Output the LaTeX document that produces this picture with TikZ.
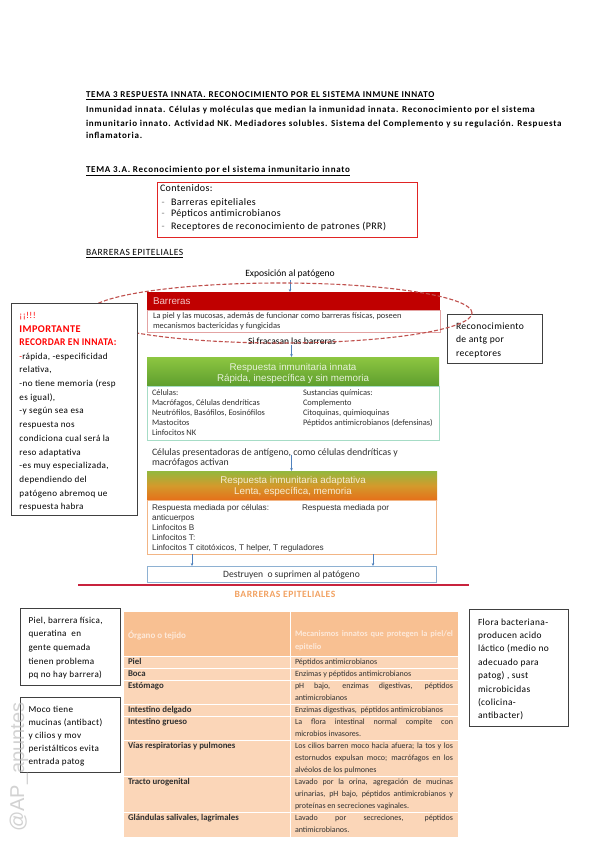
\documentclass[tikz,border=0pt]{standalone}
\usepackage{fontspec}
\setmainfont{Carlito}
\newfontfamily\arialf{Liberation Sans}
\newfontfamily\notef[LetterSpace=4]{Carlito}
\newfontfamily\hdf[LetterSpace=8]{Carlito}
\newfontfamily\lsf[LetterSpace=5]{Carlito}
\usetikzlibrary{arrows.meta}
\definecolor{barred}{HTML}{C00000}
\definecolor{barlight}{HTML}{F4C4C4}
\definecolor{barbord}{HTML}{E3A3A3}
\definecolor{grtop}{HTML}{8DC641}
\definecolor{grbot}{HTML}{5E9E2E}
\definecolor{grtext}{HTML}{E8F2DA}
\definecolor{grbord}{HTML}{A6DCC6}
\definecolor{ortop}{HTML}{93B83E}
\definecolor{ormid}{HTML}{D39A2C}
\definecolor{orbot}{HTML}{E5701A}
\definecolor{ortext}{HTML}{F8EBD2}
\definecolor{orbord}{HTML}{F2B585}
\definecolor{blbord}{HTML}{8EB1D2}
\definecolor{arrblue}{HTML}{4F81BD}
\definecolor{linered}{HTML}{C8233D}
\definecolor{titorange}{HTML}{F2A262}
\definecolor{thead}{HTML}{F8C092}
\definecolor{tbody}{HTML}{FBD6B8}
\definecolor{theadtxt}{HTML}{FDE9DA}
\definecolor{impred}{HTML}{FF0000}
\definecolor{dashred}{HTML}{C0504D}
\definecolor{notebord}{HTML}{404040}
\definecolor{contred}{HTML}{E02424}
\definecolor{bodytxt}{HTML}{303030}
\newcommand\fsz[2]{\fontsize{#1}{#2}\selectfont}
\begin{document}
\begin{tikzpicture}[x=1pt,y=-1pt,
  every node/.style={inner sep=0pt, outer sep=0pt},
  tl/.style={anchor=base west},
  tc/.style={anchor=base},
  arr/.style={draw=arrblue, line width=0.6pt, -{Stealth[length=3pt,width=2.6pt]}},
  notebox/.style={draw=notebord, line width=1pt, fill=white, anchor=north west},
  flowbox/.style={anchor=north west, line width=0.8pt},
  notetxt/.style={anchor=base west, font=\notef\fsz{9.1}{11}},
  smalltxt/.style={anchor=base west, font=\fsz{8.4}{9}, text=bodytxt},
  artxt/.style={anchor=base west, font=\arialf\fsz{8.2}{9}, text=bodytxt},
  tabl/.style={anchor=base west, font=\bfseries\fsz{8.8}{9}, text=bodytxt},
  tabr/.style={anchor=base west, font=\fsz{8}{9}, text=bodytxt},
  head/.style={anchor=base west, font=\hdf\bfseries\fsz{9}{10}},
  hdtxt/.style={tc, font=\arialf\fsz{9.8}{10}}
]
\fill[white] (0,0) rectangle (600,848);
\useasboundingbox (0,0) rectangle (600,848);

% ---------- headings ----------
\node[head] (t1) at (86,97.3) {\underline{TEMA 3 RESPUESTA INNATA. RECONOCIMIENTO POR EL SISTEMA INMUNE INNATO}};
\node[head] (p1) at (86,113) {Inmunidad innata. Células y moléculas que median la inmunidad innata. Reconocimiento por el sistema};
\node[head] (p2) at (86,126) {inmunitario innato. Actividad NK. Mediadores solubles. Sistema del Complemento y su regulación. Respuesta};
\node[head] (p3) at (86,139) {inflamatoria.};
\node[head] (t3) at (86,172.3) {\underline{TEMA 3.A. Reconocimiento por el sistema inmunitario innato}};

% ---------- contents box ----------
\node[draw=contred, line width=0.8pt, anchor=north west, minimum width=260pt, minimum height=55pt] (cont) at (157,182) {};
\node[tl, font=\notef\fsz{10}{11}] (c0) at (160,191.7) {Contenidos:};
\foreach \ty/\tx [count=\k] in {205/{Barreras epiteliales}, 216.8/{Pépticos antimicrobianos}, 229.3/{Receptores de reconocimiento de patrones (PRR)}}{
  \node[tl, font=\fsz{10}{11}, text=gray] (cd\k) at (161.5,\ty) {-};
  \node[tl, font=\notef\fsz{10}{11}] (ci\k) at (171,\ty) {\tx};
}
\node[tl, font=\lsf\fsz{9.5}{10}] (t4) at (86,255.7) {\underline{BARRERAS EPITELIALES}};

% ---------- flow chart ----------
\node[tc, font=\fsz{9.6}{10}] (expo) at (290,276.5) {Exposición al patógeno};
\node[flowbox, fill=barred, minimum width=293pt, minimum height=18pt] (barhead) at (147,292) {};
\node[tl, font=\arialf\fsz{9.8}{10}, text=barlight] (bartxt) at (153,304.3) {Barreras};
\node[flowbox, draw=barbord, minimum width=293pt, minimum height=22pt] (barbody) at (147,310) {};
\node[smalltxt] (bb1) at (153,318.6) {La piel y las mucosas, además de funcionar como barreras físicas, poseen};
\node[smalltxt] (bb2) at (153,328.2) {mecanismos bactericidas y fungicidas};
\draw[arr] ([yshift=-2pt]expo.south) -- (expo.south |- barhead.north);

\node[tc, font=\fsz{9.5}{10}] (fail) at (292,344.3) {Si fracasan las barreras};
\node[flowbox, top color=grtop, bottom color=grbot, minimum width=292pt, minimum height=29pt] (grhead) at (147,357) {};
\node[hdtxt, text=grtext] (gh1) at (293,370) {Respuesta inmunitaria innata};
\node[hdtxt, text=grtext] (gh2) at (293,381.5) {Rápida, inespecífica y sin memoria};
\node[flowbox, draw=grbord, minimum width=292pt, minimum height=54pt] (grbody) at (147,386) {};
\coordinate (ax) at (291.5,0);
\draw[arr] ([yshift=-1pt]fail.south -| ax) -- (grhead.north -| ax);
\foreach \ty/\tx [count=\k] in {395.8/{Células:}, 405.8/{Macrófagos, Células dendríticas}, 415.8/{Neutrófilos, Basófilos, Eosinófilos}, 425.8/{Mastocitos}, 435.8/{Linfocitos NK}}{
  \node[smalltxt] (gl\k) at (152,\ty) {\tx};
}
\foreach \ty/\tx [count=\k] in {395.8/{Sustancias químicas:}, 405.8/{Complemento}, 415.8/{Citoquinas, quimioquinas}, 425.8/{Péptidos antimicrobianos (defensinas)}}{
  \node[smalltxt] (gr\k) at (303,\ty) {\tx};
}
\node[tl, font=\fsz{9.8}{10}, text=bodytxt] (apc1) at (152,455) {Células presentadoras de antígeno, como células dendríticas y};
\node[tl, font=\fsz{9.8}{10}, text=bodytxt] (apc2) at (152,465) {macrófagos activan};

\node[flowbox, top color=ortop, bottom color=orbot, middle color=ormid, minimum width=290pt, minimum height=29pt] (adhead) at (147,471) {};
\node[hdtxt, text=ortext] (ah1) at (293,483.5) {Respuesta inmunitaria adaptativa};
\node[hdtxt, text=ortext] (ah2) at (293,494.5) {Lenta, específica, memoria};
\node[flowbox, draw=orbord, minimum width=289pt, minimum height=54pt] (adbody) at (147,500) {};
\draw[arr] ([yshift=2pt]apc1.south -| ax) -- (adhead.north -| ax);
\foreach \ty/\tx [count=\k] in {510.5/{Respuesta mediada por células:}, 520/{anticuerpos}, 530/{Linfocitos B}, 540/{Linfocitos T:}, 550/{Linfocitos T citotóxicos, T helper, T reguladores}}{
  \node[artxt] (al\k) at (152,\ty) {\tx};
}
\node[artxt] (ar1) at (302,510.5) {Respuesta mediada por};

\node[flowbox, draw=blbord, minimum width=288.5pt, minimum height=16.5pt] (dest) at (147.5,566) {};
\node[tc, font=\fsz{9.6}{10}, text=bodytxt] (desttxt) at (291.5,577.8) {Destruyen\ \ o suprimen al patógeno};
\coordinate (b1) at (192,0);
\coordinate (b2) at (373,0);
\draw[arr] (adbody.south -| b1) -- (dest.north -| b1);
\draw[arr] (adbody.south -| b2) -- (dest.north -| b2);

% ---------- right note + dashed ellipse ----------
\node[notebox, minimum width=95pt, minimum height=49pt] (recbox) at (447,314) {};
\foreach \ty/\tx [count=\k] in {329/{Reconocimiento}, 342.7/{de antg por}, 356.4/{receptores}}{
  \node[notetxt, font=\notef\fsz{9.6}{11}] (rec\k) at (456,\ty) {\tx};
}
\draw[dashred, line width=1.1pt, dash pattern=on 4pt off 2pt] (280,313) ellipse [x radius=192pt, y radius=30pt];

% ---------- left important note ----------
\node[notebox, minimum width=126pt, minimum height=212pt] (impbox) at (11,303) {};
\foreach \ty/\tx [count=\k] in {
  318/{\color{impred}¡¡!!!},
  332.2/{\fsz{10.3}{11}\bfseries\color{impred}IMPORTANTE},
  345.8/{\fsz{10.3}{11}\bfseries\color{impred}\scalebox{0.92}[1]{RECORDAR EN INNATA:}},
  359.1/{{\color{impred}-}rápida, -especificidad},
  372.8/{relativa,},
  386.5/{-no tiene memoria (resp},
  400.2/{es igual),},
  413.9/{-y según sea esa},
  427.6/{respuesta nos},
  441.3/{condiciona cual será la},
  455/{reso adaptativa},
  468.7/{-es muy especializada,},
  482.4/{dependiendo del},
  496.1/{patógeno abremoq ue},
  509.8/{respuesta habra}}{
  \node[notetxt] (imp\k) at (19.5,\ty) {\tx};
}

% ---------- separator and table title ----------
\draw[linered, line width=1.3pt] (78,585) -- (469,585);
\node[tc, font=\lsf\bfseries\fsz{9.6}{10}, text=titorange] (tabtitle) at (285,597.5) {BARRERAS EPITELIALES};

% ---------- table ----------
\fill[thead] (123.5,612) rectangle (457.5,656);
\fill[tbody] (123.5,656) rectangle (457.5,836.5);
\foreach \yy in {656,668,680,704,716,740,776,812}{
  \draw[white, line width=0.7pt] (123.5,\yy) -- (457.5,\yy);
}
\draw[white, line width=1pt] (290.5,612) -- (290.5,836.5);
\node[tabl, text=theadtxt, font=\bfseries\fsz{9}{9}] (th1) at (128,638) {Órgano o tejido};
\node[tabr, text=theadtxt, font=\bfseries\fsz{8.4}{9}] (th2) at (295,636.8) {\makebox[158pt][s]{Mecanismos innatos que protegen la piel/el}};
\node[tabr, text=theadtxt, font=\bfseries\fsz{8.4}{9}] (th3) at (295,649) {epitelio};
\foreach \ty/\tx [count=\k] in {664.6/{Piel}, 676.6/{Boca}, 688.6/{Estómago}, 712.6/{Intestino delgado}, 724.6/{Intestino grueso}, 748.6/{Vías respiratorias y pulmones}, 784.6/{Tracto urogenital}, 820.6/{Glándulas salivales, lagrimales}}{
  \node[tabl] (tl\k) at (128,\ty) {\tx};
}
\foreach \ty/\tx [count=\k] in {
  664.6/{Péptidos antimicrobianos},
  676.6/{Enzimas y péptidos antimicrobianos},
  688.6/{\makebox[158pt][s]{pH bajo, enzimas digestivas, péptidos}},
  700.6/{antimicrobianos},
  712.6/{Enzimas digestivas,\ \ péptidos antimicrobianos},
  724.6/{\makebox[158pt][s]{La flora intestinal normal compite con}},
  736.6/{microbios invasores.},
  748.6/{\makebox[158pt][s]{Los cilios barren moco hacia afuera; la tos y los}},
  760.6/{\makebox[158pt][s]{estornudos expulsan moco; macrófagos en los}},
  772.6/{alvéolos de los pulmones},
  784.6/{\makebox[158pt][s]{Lavado por la orina, agregación de mucinas}},
  796.6/{\makebox[158pt][s]{urinarias, pH bajo, péptidos antimicrobianos y}},
  808.6/{proteínas en secreciones vaginales.},
  820.6/{\makebox[158pt][s]{Lavado por secreciones, péptidos}},
  832.6/{antimicrobianos.}}{
  \node[tabr] (tr\k) at (295,\ty) {\tx};
}

% ---------- bottom notes ----------
\node[notebox, minimum width=100pt, minimum height=77pt] (pielbox) at (20,608) {};
\foreach \ty/\tx [count=\k] in {623/{Piel, barrera física,}, 636.7/{queratina\ \ en}, 650.4/{gente quemada}, 664.1/{tienen problema}, 677.8/{pq no hay barrera)}}{
  \node[notetxt] (piel\k) at (28.5,\ty) {\tx};
}
\node[notebox, minimum width=100pt, minimum height=75pt] (mocobox) at (20,697) {};
\foreach \ty/\tx [count=\k] in {712/{Moco tiene}, 725/{mucinas (antibact)}, 738/{y cilios y mov}, 751/{peristálticos evita}, 764/{entrada patog}}{
  \node[notetxt] (moco\k) at (28.5,\ty) {\tx};
}
\node[notebox, minimum width=99pt, minimum height=117pt] (florabox) at (469,609) {};
\foreach \ty/\tx [count=\k] in {625/{Flora bacteriana-}, 638.4/{producen acido}, 651.8/{láctico (medio no}, 665.2/{adecuado para}, 678.6/{patog) , sust}, 692/{microbicidas}, 705.4/{(colicina-}, 718.8/{antibacter)}}{
  \node[notetxt, font=\notef\fsz{9.4}{11}] (flora\k) at (478,\ty) {\tx};
}

% ---------- watermark ----------
\node[rotate=90, font=\arialf\fsz{20}{20}, text=gray!50, opacity=0.7] (wm) at (19,767) {@AP\_apuntes};
\end{tikzpicture}
\end{document}
